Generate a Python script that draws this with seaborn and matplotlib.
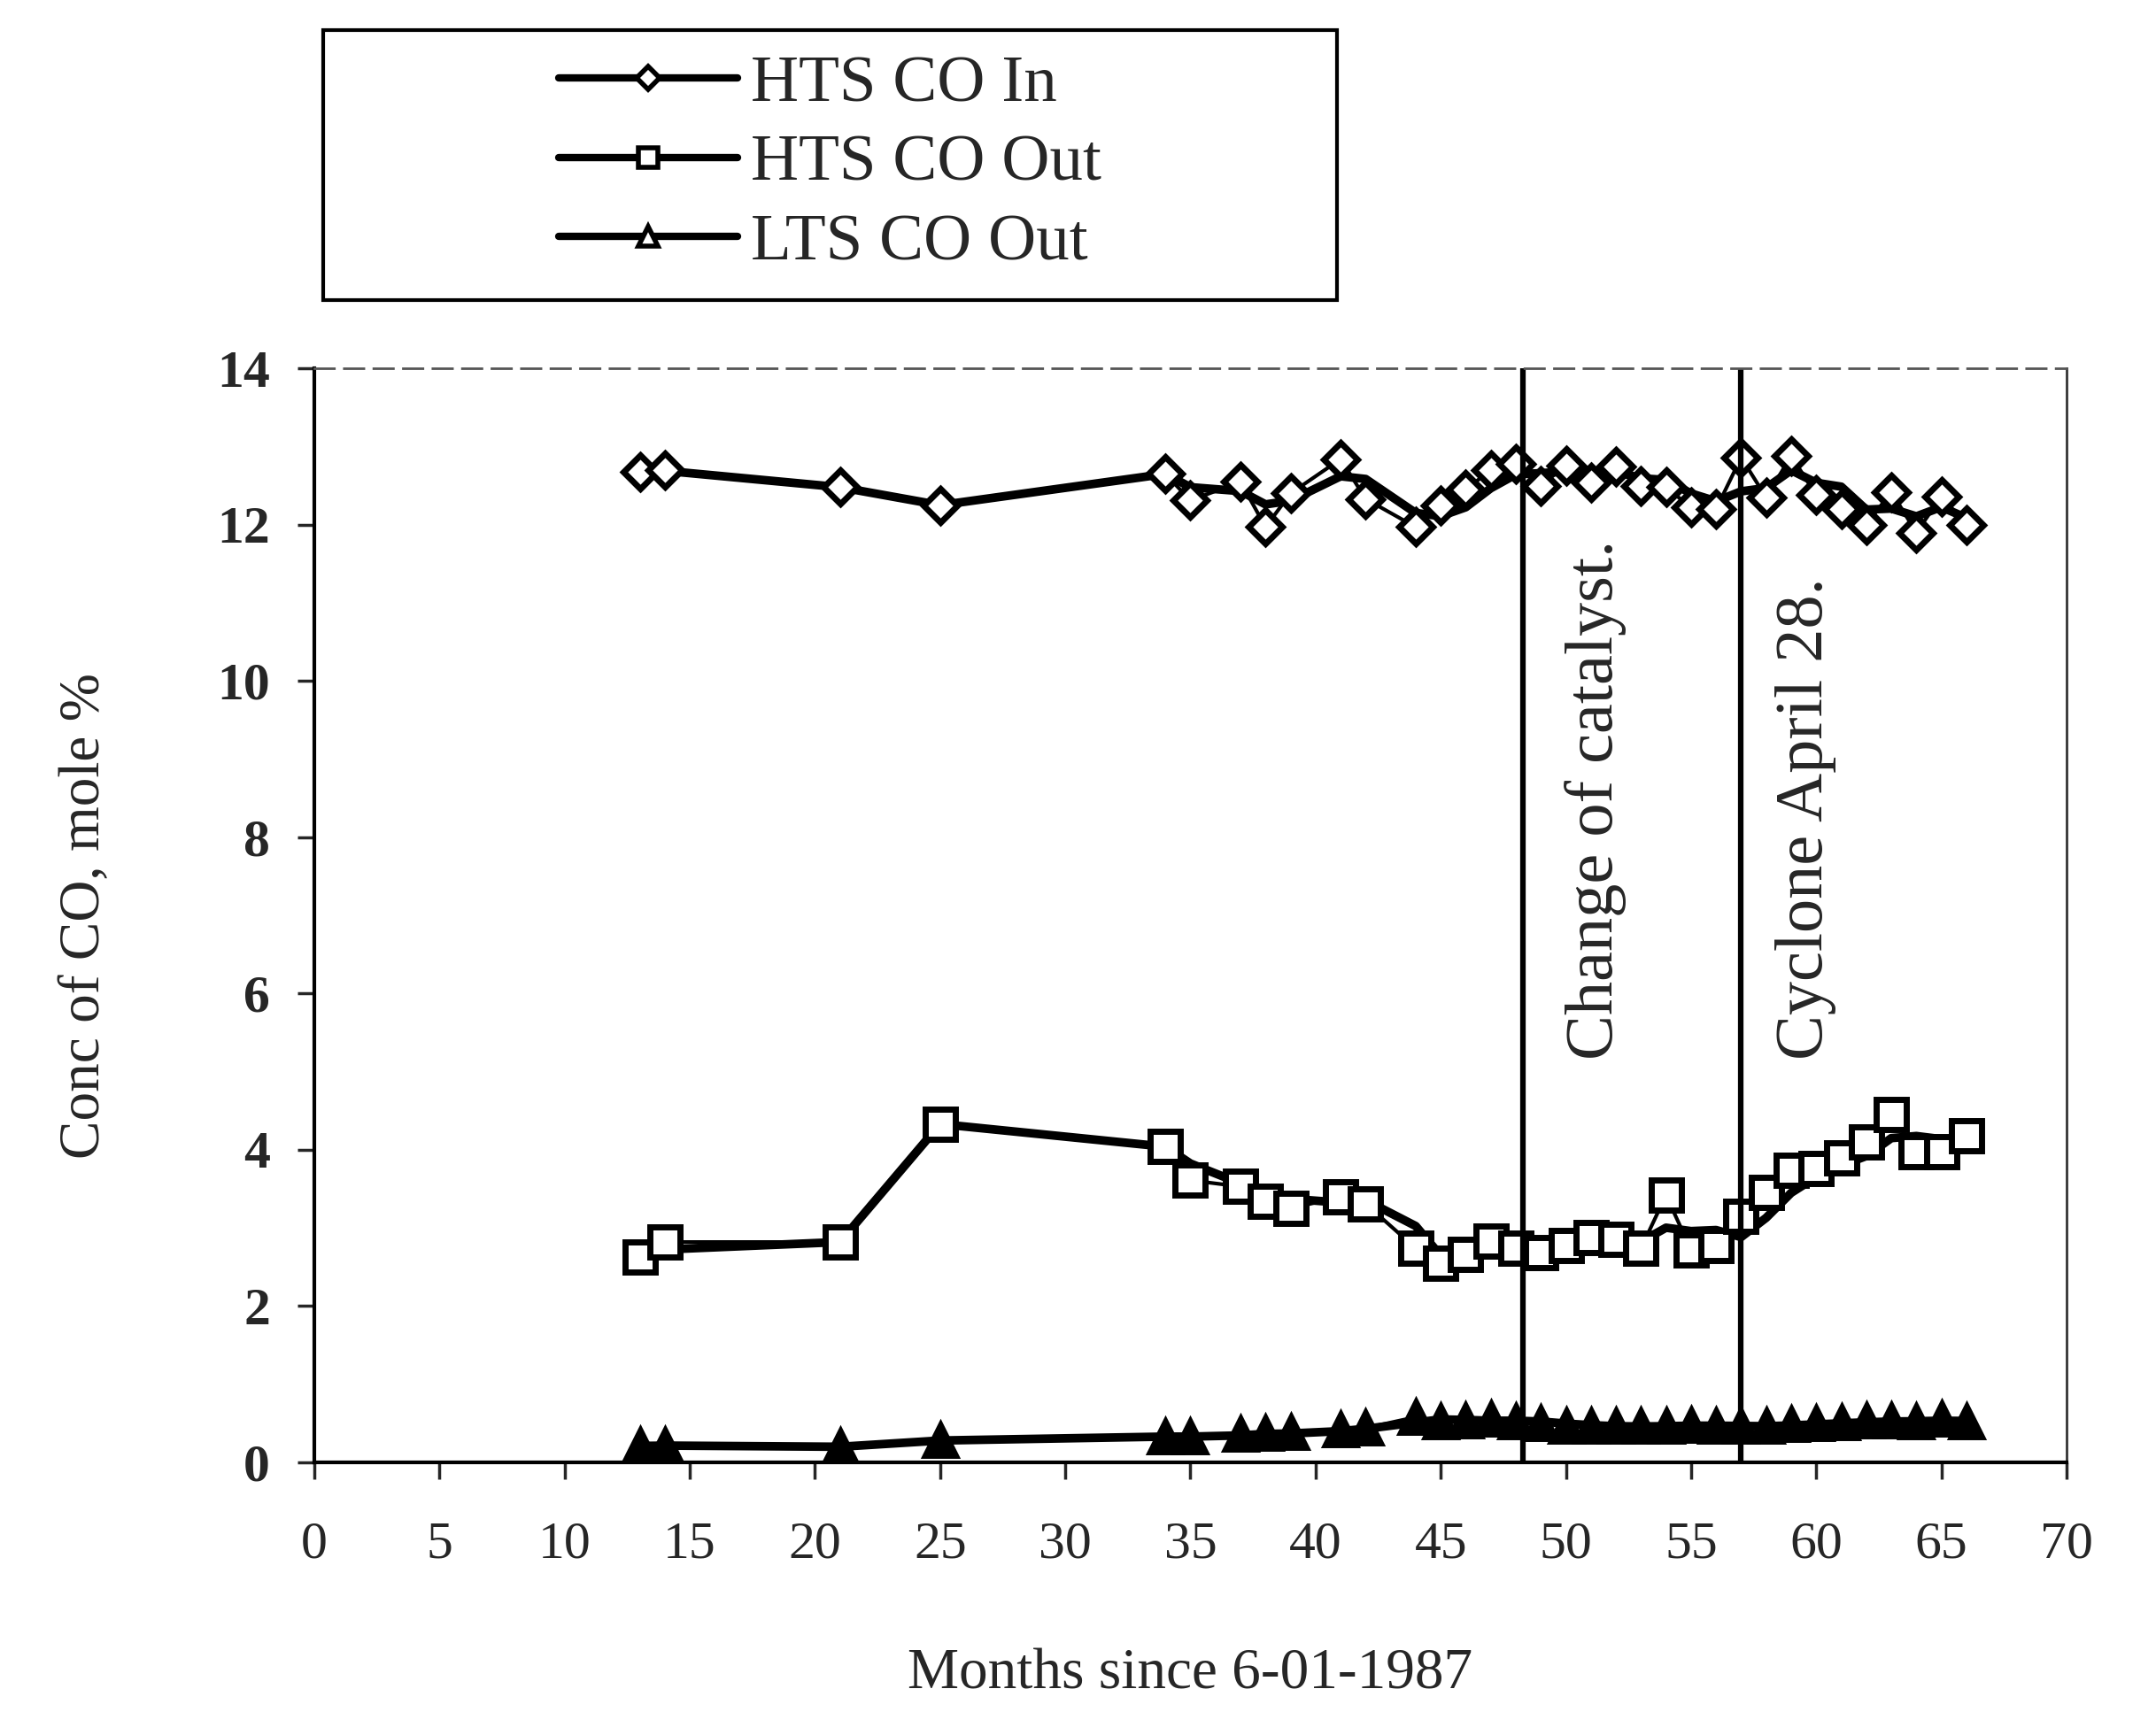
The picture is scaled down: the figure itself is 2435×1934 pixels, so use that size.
import numpy as np
import matplotlib
matplotlib.use("Agg")
import matplotlib.pyplot as plt
import seaborn as sns
from matplotlib.lines import Line2D
from matplotlib.patches import Rectangle

# =========================
# DATOS
# =========================
months = np.array([13, 14, 21, 25, 34, 35, 37, 38, 39, 41, 42,
                   44, 45, 46, 47, 48, 49, 50, 51, 52, 53,
                   54, 55, 56,
                   57, 58, 59, 60, 61, 62, 63, 64, 65, 66])

hts_in = np.array([12.68, 12.70, 12.48, 12.25, 12.65, 12.31, 12.55, 11.97, 12.40, 12.84, 12.33,
                   11.97, 12.25, 12.45, 12.70, 12.78, 12.50, 12.76, 12.54, 12.74, 12.50,
                   12.48, 12.22, 12.20,
                   12.86, 12.35, 12.88, 12.38, 12.20, 12.00, 12.42, 11.90, 12.36, 12.00])

hts_out = np.array([2.63, 2.82, 2.82, 4.33, 4.04, 3.61, 3.53, 3.34, 3.25, 3.40, 3.31,
                    2.74, 2.55, 2.66, 2.83, 2.74, 2.68, 2.78, 2.88, 2.85, 2.74,
                    3.42, 2.72, 2.78,
                    3.15, 3.46, 3.74, 3.76, 3.90, 4.10, 4.45, 3.98, 3.98, 4.18])

lts_out = np.array([0.21, 0.22, 0.20, 0.28, 0.33, 0.33, 0.36, 0.37, 0.38, 0.42, 0.44,
                    0.58, 0.52, 0.53, 0.55, 0.52, 0.50, 0.47, 0.46, 0.46, 0.46,
                    0.47, 0.48, 0.46,
                    0.46, 0.47, 0.49, 0.50, 0.51, 0.53, 0.53, 0.52, 0.55, 0.52])

series_names = ["HTS CO In", "HTS CO Out", "LTS CO Out"]
series_markers = ["D", "s", "^"]

events = [48.3, 57.0]
event_labels = ["Change of catalyst.", "Cyclone April 28."]


# media móvil (últimos 2 meses), como la línea gruesa del original
def trailing_mean(x, y, window=2):
    return np.array([y[(x >= xi - window) & (x <= xi)].mean() for xi in x])


# =========================
# ESTILO
# =========================
sns.set_style("ticks")
plt.rcParams["font.family"] = ["Liberation Serif", "DejaVu Serif"]

fig = plt.figure(figsize=(24.35, 19.34), dpi=100)
ax = fig.add_axes([0.1458, 0.1458, 0.8127, 0.639])

marker_sizes = {"D": 19, "s": 24, "^": 24}
marker_faces = {"D": "white", "s": "white", "^": "black"}

for name, marker, values in zip(series_names, series_markers, [hts_in, hts_out, lts_out]):
    # línea de tendencia gruesa
    sns.lineplot(x=months, y=trailing_mean(months, values), ax=ax,
                 color="black", lw=7, legend=False)
    # datos con marcadores
    sns.lineplot(x=months, y=values, ax=ax, color="black", lw=3,
                 marker=marker, markersize=marker_sizes[marker],
                 markerfacecolor=marker_faces[marker], markeredgecolor="black",
                 markeredgewidth=5, legend=False)

# líneas de eventos
for xv in events:
    ax.axvline(xv, color="black", lw=4.5)

ax.text(51.2, 5.16, event_labels[0], rotation=90, ha="center", va="bottom", fontsize=55)
ax.text(59.6, 5.16, event_labels[1], rotation=90, ha="center", va="bottom", fontsize=55)

# ejes
ax.set_xlim(0, 70)
ax.set_ylim(0, 14)
ax.set_xticks(range(0, 71, 5))
ax.set_yticks(range(0, 15, 2))
ax.tick_params(direction="out", length=14, width=2.5, labelsize=43)
ax.tick_params(axis="x", pad=34)
ax.tick_params(axis="y", pad=22)
for lab in ax.get_yticklabels():
    lab.set_fontweight("bold")

ax.set_xlabel("Months since 6-01-1987", fontsize=47, labelpad=64)
ax.set_ylabel("Conc of CO, mole %", fontsize=47, labelpad=86)

for side in ["left", "bottom"]:
    ax.spines[side].set_linewidth(3)
    ax.spines[side].set_color("black")
ax.spines["top"].set_linewidth(2)
ax.spines["top"].set_linestyle((0, (8, 4)))
ax.spines["top"].set_color("#555555")
ax.spines["right"].set_linewidth(2)
ax.spines["right"].set_color("#333333")

# leyenda
handles = [Line2D([], [], color="black", lw=6, marker=m, ms=16 if m != "D" else 13,
                  mfc="white", mec="black", mew=4) for m in series_markers]
fig.legend(handles, series_names, loc="center", bbox_to_anchor=(0.385, 0.904),
           frameon=False, fontsize=54, handlelength=2.7, handletextpad=0.2,
           labelspacing=0.28)
fig.add_artist(Rectangle((365 / 2435, 1 - 339 / 1934), (1510 - 365) / 2435, (339 - 34) / 1934,
                         transform=fig.transFigure, fill=False, lw=3, ec="black"))

fig.savefig("out.png", dpi=100)
